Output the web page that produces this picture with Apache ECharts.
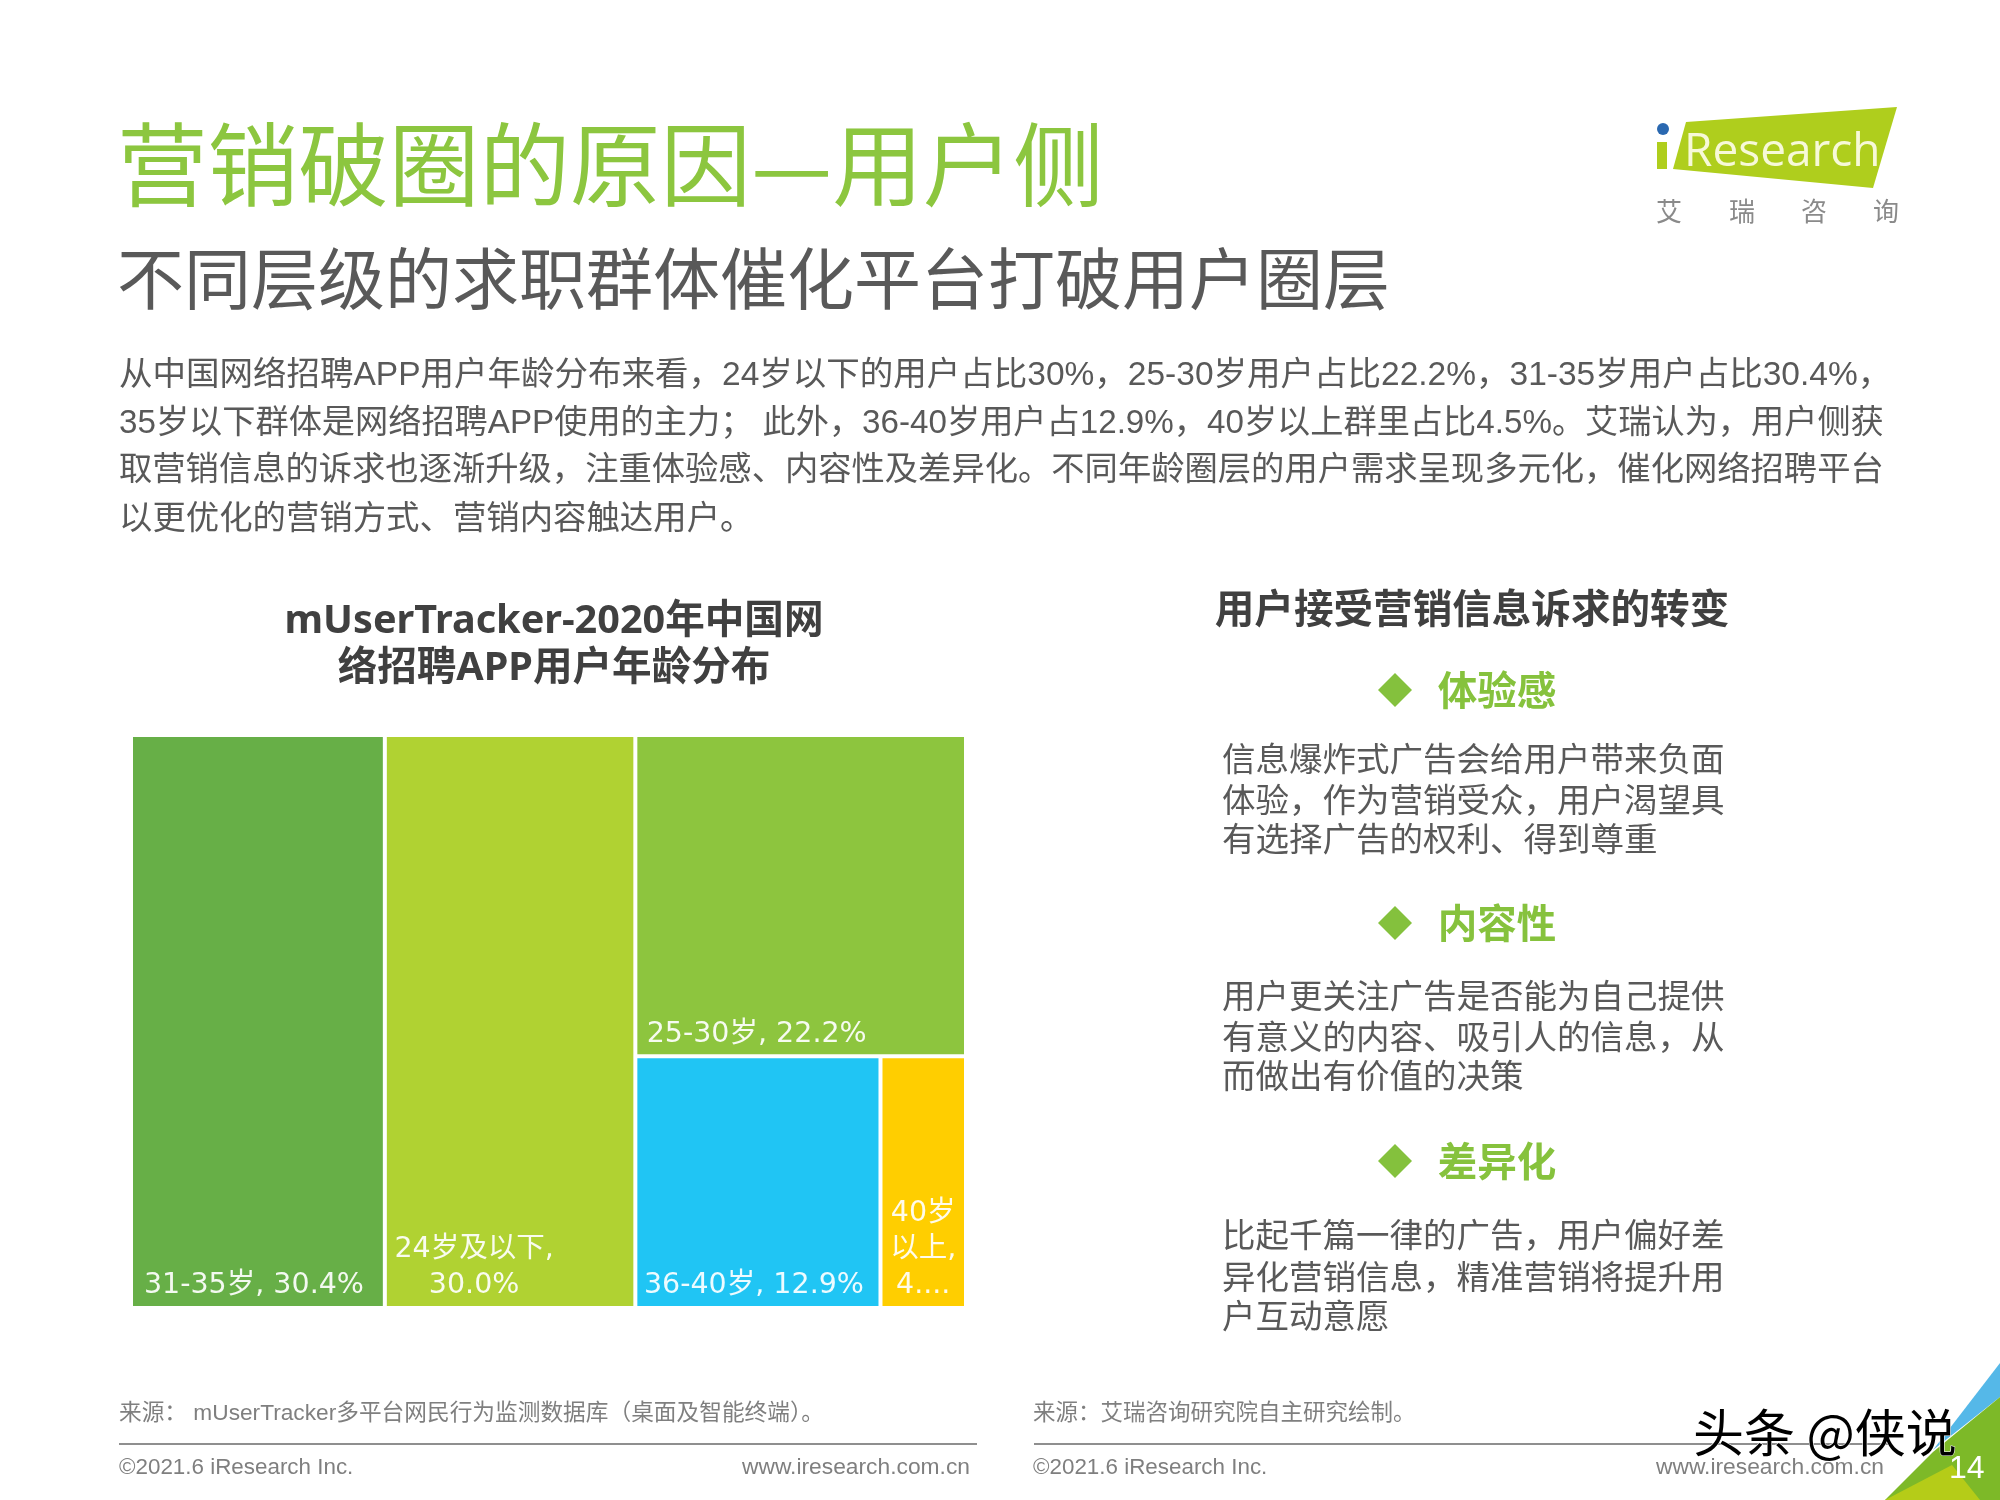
<!DOCTYPE html>
<html><head><meta charset="utf-8">
<style>html,body{margin:0;padding:0;background:#fff}#c{width:2000px;height:1500px}</style>
<script src="https://cdn.jsdelivr.net/npm/echarts@6/dist/echarts.min.js"></script>
</head><body><div id="c"></div>
<script>
const categories = ['31-35岁','24岁及以下','25-30岁','36-40岁','40岁以上'];
const shares = [30.4,30.0,22.2,12.9,4.5];
const tileLabels = ['31-35岁, 30.4%','24岁及以下,\n30.0%','25-30岁, 22.2%','36-40岁, 12.9%','40岁\n以上,\n4....'];
const tileColors = ['#67AF47','#B0D232','#8DC53E','#20C5F4','#FFCE00'];
const pageTitle = '营销破圈的原因—用户侧';
const pageSubtitle = '不同层级的求职群体催化平台打破用户圈层';
const introLines = [
 '从中国网络招聘APP用户年龄分布来看，24岁以下的用户占比30%，25-30岁用户占比22.2%，31-35岁用户占比30.4%，',
 '35岁以下群体是网络招聘APP使用的主力； 此外，36-40岁用户占12.9%，40岁以上群里占比4.5%。艾瑞认为，用户侧获',
 '取营销信息的诉求也逐渐升级，注重体验感、内容性及差异化。不同年龄圈层的用户需求呈现多元化，催化网络招聘平台',
 '以更优化的营销方式、营销内容触达用户。'];
const chartTitle = 'mUserTracker-2020年中国网\n络招聘APP用户年龄分布';
const sideTitle = '用户接受营销信息诉求的转变';
const sideHeads = ['体验感','内容性','差异化'];
const sideBodies = [
 ['信息爆炸式广告会给用户带来负面','体验，作为营销受众，用户渴望具','有选择广告的权利、得到尊重'],
 ['用户更关注广告是否能为自己提供','有意义的内容、吸引人的信息，从','而做出有价值的决策'],
 ['比起千篇一律的广告，用户偏好差','异化营销信息，精准营销将提升用','户互动意愿']];

const CJK = '"Noto Sans CJK SC","Liberation Sans",sans-serif';
const ARIAL = '"Liberation Sans","Noto Sans CJK SC",sans-serif';
const VERD = '"DejaVu Sans","Noto Sans CJK SC",sans-serif';
const chart = echarts.init(document.getElementById('c'), null, {renderer:'canvas', width:2000, height:1500});
const g = [];
function T(x,y,text,size,color,o){o=o||{};
  g.push({type:'text',x:x,y:y,z:o.z||5,style:{text:text,fontSize:size,fill:color,fontFamily:o.font||CJK,
    fontWeight:o.weight||'normal',textAlign:o.align||'left',textVerticalAlign:'middle',opacity:o.opacity==null?1:o.opacity,
    stroke:o.stroke,lineWidth:o.lw||0}});
}
function P(points,color,z){g.push({type:'polygon',z:z||1,shape:{points:points},style:{fill:color}});}
function L(x1,x2,y){g.push({type:'line',z:1,shape:{x1:x1,y1:y,x2:x2,y2:y},style:{stroke:'#8f8f8f',lineWidth:2}});}

T(117,165,pageTitle,90.6,'#8CC63F');
T(117,279,pageSubtitle,67,'#595959');
const introSizes=[33.5,33.2,33.3,33.4];
[376,424,471,520].forEach((y,i)=>T(119,y,introLines[i],introSizes[i],'#595959',{font:ARIAL}));

T(1472,608,sideTitle,39.6,'#404040',{weight:'bold',align:'center'});
[690,923,1161].forEach((y,i)=>{
  const d=17; P([[1395,y-d],[1395+d,y],[1395,y+d],[1395-d,y]],'#84C13D',5);
  T(1497,y,sideHeads[i],39.5,'#86C23D',{weight:'bold',align:'center'});
});
[[758,799,838],[995,1036,1075],[1234,1276,1315]].forEach((ys,i)=>ys.forEach((y,j)=>T(1222,y,sideBodies[i][j],33.5,'#595959')));

T(119,1414,'来源： mUserTracker多平台网民行为监测数据库（桌面及智能终端）。',22.7,'#7f7f7f',{font:ARIAL});
T(1033,1414,'来源：艾瑞咨询研究院自主研究绘制。',22.5,'#7f7f7f',{font:ARIAL});
L(119,977,1444); L(1034,1888,1444);
T(119,1468,'©2021.6 iResearch Inc.',22.4,'#7f7f7f',{font:ARIAL});
T(1033,1468,'©2021.6 iResearch Inc.',22.4,'#7f7f7f',{font:ARIAL});
T(970,1468,'www.iresearch.com.cn',22.8,'#7f7f7f',{font:ARIAL,align:'right'});
T(1884,1468,'www.iresearch.com.cn',22.8,'#7f7f7f',{font:ARIAL,align:'right'});

// corner
P([[2000,1363],[1933,1450],[2000,1397]],'#55B8E8',2);
P([[2000,1397],[1933,1452],[1885,1500],[2000,1500]],'#7DB928',2);
P([[1885,1500],[1952,1465],[1980,1500]],'#B5CC18',3);
T(1949,1469,'14',32,'#ffffff',{font:ARIAL,z:7});

// logo
P([[1686,122],[1897,107],[1873,188],[1673,169]],'#AFCE1D',2);
g.push({type:'rect',z:2,shape:{x:1657,y:142,width:10,height:27},style:{fill:'#AFCE1D'}});
g.push({type:'circle',z:2,shape:{cx:1663,cy:129,r:6},style:{fill:'#2A68B0'}});
T(1684,153,'Research',46,'#F7F9D8',{font:'"Open Sans",sans-serif',z:3});
['艾','瑞','咨','询'].forEach((c,i)=>T([1669,1742,1814,1886][i],211,c,26,'#8a8a8a',{align:'center'}));

// watermark
T(1693,1433,'头条 @侠说',51,'#000000',{z:8,stroke:'#ffffff',lw:1});

// labels sit toward the tile's left edge
const labelShift={'31-35岁':-4,'24岁及以下':-36,'25-30岁':-44,'36-40岁':-4};
const labelColor='rgba(255,255,255,0.92)';
const option = {
  animation:false,
  backgroundColor:'#ffffff',
  title:{text:chartTitle,left:549,top:593,textAlign:'center',
    textStyle:{fontSize:39.6,fontWeight:'bold',color:'#404040',lineHeight:47,fontFamily:'"Noto Sans",'+CJK}},
  tooltip:{show:false},
  graphic:g,
  series:[{
    type:'treemap',left:133,top:737,width:831,height:569,
    roam:false,nodeClick:false,breadcrumb:{show:false},squareRatio:0.2,
    sort:'desc',visibleMin:0,
    itemStyle:{gapWidth:4,borderWidth:0},
    levels:[{itemStyle:{gapWidth:4,borderWidth:0}}],
    label:{show:true,position:'insideBottom',distance:0,align:'center',
      color:labelColor,fontSize:28.5,lineHeight:36,fontFamily:VERD,overflow:'none',
      formatter:p=>tileLabels[categories.indexOf(p.name)]},
    data:categories.map((n,i)=>({name:n,value:shares[i],itemStyle:{color:tileColors[i]},
      label:{offset:[labelShift[n]||0,3]}}))
  }]
};
chart.setOption(option);
</script></body></html>
